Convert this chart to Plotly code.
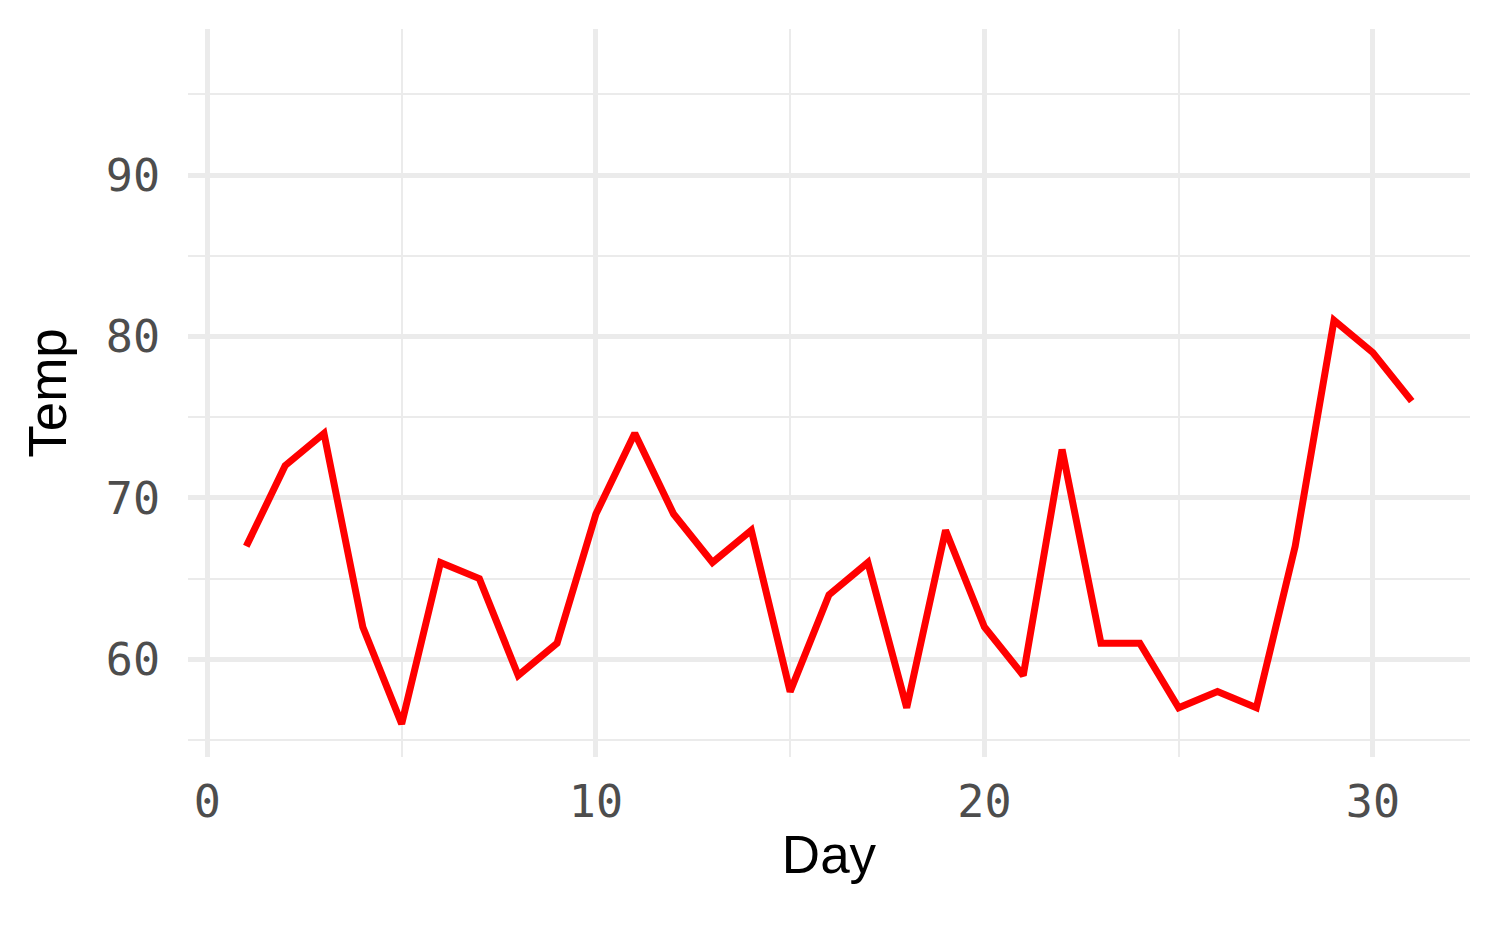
import plotly.graph_objects as go

day = list(range(1, 32))
temp = [67, 72, 74, 62, 56, 66, 65, 59, 61, 69, 74, 69, 66, 68, 58, 64, 66, 57, 68, 62,
        59, 73, 61, 61, 57, 58, 57, 67, 81, 79, 76]
x_ticks = [0, 10, 20, 30]
y_ticks = [60, 70, 80, 90]

fig = go.Figure(go.Scatter(x=day, y=temp, mode="lines",
                           line=dict(color="#FF0000", width=7), hoverinfo="skip"))

grid = "#EBEBEB"
tickfont = dict(family="DejaVu Sans Mono", size=45, color="#4D4D4D")
fig.update_layout(
    width=1500, height=927,
    margin=dict(l=180, r=38, t=21, b=178),
    plot_bgcolor="white", paper_bgcolor="white",
    showlegend=False,
    xaxis=dict(range=[-0.5, 32.5], tickvals=x_ticks, ticktext=[str(v) for v in x_ticks],
               showgrid=True, gridcolor=grid, gridwidth=4.5, zeroline=False, showline=False,
               minor=dict(tickvals=[5, 15, 25], showgrid=True, gridcolor=grid, gridwidth=2.3),
               ticks="outside", ticklen=5, tickcolor="rgba(0,0,0,0)",
               tickfont=tickfont,
               title=dict(text="Day", font=dict(family="Liberation Sans", size=53, color="black"),
                          standoff=8)),
    yaxis=dict(range=[53.95, 99.05], tickvals=y_ticks, ticktext=[str(v) for v in y_ticks],
               showgrid=True, gridcolor=grid, gridwidth=4.5, zeroline=False, showline=False,
               minor=dict(tickvals=[55, 65, 75, 85, 95], showgrid=True, gridcolor=grid, gridwidth=2.3),
               ticks="outside", ticklen=18, tickcolor="rgba(0,0,0,0)",
               tickfont=tickfont,
               title=dict(text="Temp", font=dict(family="Liberation Sans", size=53, color="black"),
                          standoff=22)),
)
fig.write_html("out.html")
